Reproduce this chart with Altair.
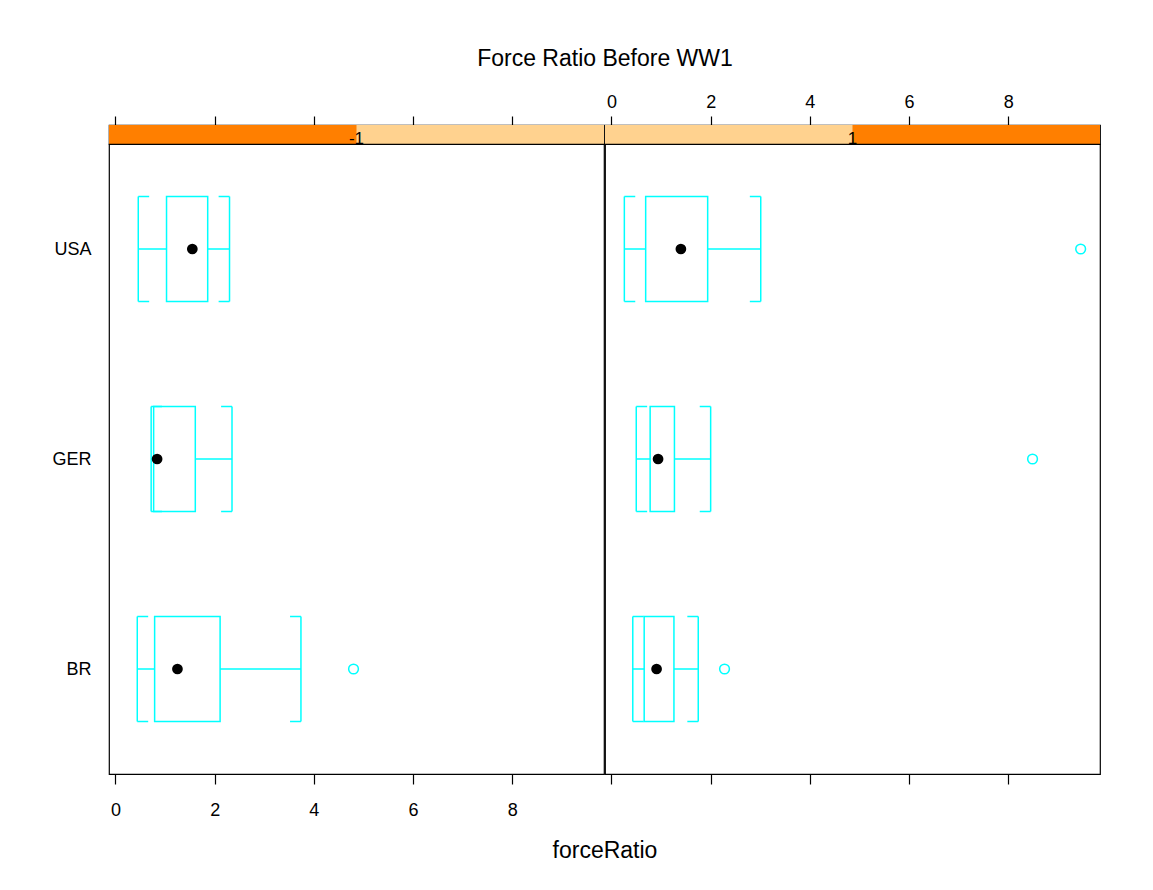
import altair as alt
import pandas as pd

# ---- data ----
categories = ["BR", "GER", "USA"]          # bottom -> top
panels = ["-1", "1"]

lower_whisker = {"-1": [0.44, 0.72, 0.46], "1": [0.43, 0.50, 0.26]}
lower_hinge   = {"-1": [0.79, 0.77, 1.03], "1": [0.66, 0.78, 0.69]}
median        = {"-1": [1.25, 0.84, 1.55], "1": [0.91, 0.94, 1.40]}
upper_hinge   = {"-1": [2.11, 1.61, 1.86], "1": [1.26, 1.27, 1.94]}
upper_whisker = {"-1": [3.74, 2.35, 2.30], "1": [1.75, 2.00, 3.01]}
outlier_panel = ["-1", "1", "1", "1"]
outlier_cat   = ["BR", "BR", "GER", "USA"]
outlier_value = [4.80, 2.28, 8.49, 9.46]

title_text = "Force Ratio Before WW1"
x_title = "forceRatio"
tick_values = [0, 2, 4, 6, 8]

# ---- styling ----
FONT = "Liberation Sans"
CYAN = "#00FFFF"
DARK = "#FF7F00"
LIGHT = "#FFD28F"
W, H, STRIP_H = 495, 630, 19
XDOM = [-0.13, 9.85]
HALF = 0.25      # half box height in category units
STUB = 0.22      # whisker bracket stub length in x units
LW = 1.5

rows = []
for p in panels:
    for i, c in enumerate(categories):
        rows.append(dict(panel=p, cat=c, ypos=i + 1,
                         lo=lower_whisker[p][i], q1=lower_hinge[p][i],
                         med=median[p][i], q3=upper_hinge[p][i],
                         hi=upper_whisker[p][i]))
box_df = pd.DataFrame(rows)
out_df = pd.DataFrame({"panel": outlier_panel, "cat": outlier_cat, "value": outlier_value})
out_df["ypos"] = out_df["cat"].map({c: i + 1 for i, c in enumerate(categories)})

xscale = alt.Scale(domain=XDOM, nice=False, zero=False)
yscale = alt.Scale(domain=[0.5, len(categories) + 0.5], nice=False, zero=False)
label_expr = "[" + ",".join("'%s'" % c for c in categories) + "][datum.value - 1]"


def main_panel(p, first):
    d = box_df[box_df.panel == p]
    o = out_df[out_df.panel == p]
    xaxis = alt.Axis(orient="bottom", values=tick_values, labels=first, title=None,
                     grid=False, domain=False, tickSize=10, labelPadding=17)
    yaxis = (alt.Axis(values=list(range(1, len(categories) + 1)), labelExpr=label_expr,
                      title=None, grid=False, domain=False, ticks=False, labelPadding=18)
             if first else None)

    def X(f):
        return alt.X(f, type="quantitative", scale=xscale, axis=xaxis)

    def Y(f):
        return alt.Y(f, type="quantitative", scale=yscale, axis=yaxis)

    base = alt.Chart(d).transform_calculate(
        ylo="datum.ypos - %f" % HALF, yhi="datum.ypos + %f" % HALF,
        lo_stub="datum.lo + %f" % STUB, hi_stub="datum.hi - %f" % STUB)
    rule = dict(color=CYAN, strokeWidth=LW)

    box = base.mark_rect(stroke=CYAN, strokeWidth=LW, fillOpacity=0).encode(
        x=X("q1"), x2="q3", y=Y("ylo"), y2="yhi")
    wlo = base.mark_rule(**rule).encode(x=X("lo"), x2="q1", y=Y("ypos"))
    whi = base.mark_rule(**rule).encode(x=X("q3"), x2="hi", y=Y("ypos"))
    clo = base.mark_rule(**rule).encode(x=X("lo"), y=Y("ylo"), y2="yhi")
    chi = base.mark_rule(**rule).encode(x=X("hi"), y=Y("ylo"), y2="yhi")
    slo_a = base.mark_rule(**rule).encode(x=X("lo"), x2="lo_stub", y=Y("ylo"))
    slo_b = base.mark_rule(**rule).encode(x=X("lo"), x2="lo_stub", y=Y("yhi"))
    shi_a = base.mark_rule(**rule).encode(x=X("hi_stub"), x2="hi", y=Y("ylo"))
    shi_b = base.mark_rule(**rule).encode(x=X("hi_stub"), x2="hi", y=Y("yhi"))
    med = base.mark_point(shape="circle", filled=True, color="black", size=115, opacity=1).encode(
        x=X("med"), y=Y("ypos"))
    outl = alt.Chart(o).mark_point(shape="circle", filled=False, color=CYAN, size=95,
                                   strokeWidth=1.5, opacity=1).encode(
        x=X("value"), y=Y("ypos"))
    return alt.layer(box, wlo, whi, clo, chi, slo_a, slo_b, shi_a, shi_b, med, outl).properties(
        width=W, height=H)


def strip_panel(idx, show_labels):
    n = len(panels)
    seg = pd.DataFrame({"start": [0.0, idx / n], "end": [1.0, (idx + 1) / n],
                        "kind": ["light", "dark"]})
    lab = pd.DataFrame({"pos": [0.5], "label": [panels[idx]]})
    fscale = alt.Scale(domain=[0, 1], nice=False, zero=False)
    rect = alt.Chart(seg).mark_rect(stroke=None).encode(
        x=alt.X("start:Q", scale=fscale, axis=None), x2="end",
        y=alt.value(0), y2=alt.value(STRIP_H),
        color=alt.Color("kind:N", scale=alt.Scale(domain=["dark", "light"], range=[DARK, LIGHT]),
                        legend=None))
    txt = alt.Chart(lab).mark_text(font=FONT, fontSize=17, color="black", baseline="alphabetic",
                                   align="center", clip=True).encode(
        x=alt.X("pos:Q", scale=fscale, axis=None), y=alt.value(STRIP_H - 0.5), text="label:N")
    d = box_df[box_df.panel == panels[idx]]
    ax = alt.Chart(d).mark_point(opacity=0).encode(
        x=alt.X("med:Q", scale=xscale,
                axis=alt.Axis(orient="top", values=tick_values, labels=show_labels, title=None,
                              grid=False, domain=False, tickSize=9, labelPadding=5)),
        y=alt.value(STRIP_H / 2))
    return alt.layer(rect, txt, ax).resolve_scale(x="independent", color="independent").properties(
        width=W, height=STRIP_H)


col_left = alt.vconcat(strip_panel(0, False), main_panel(panels[0], True), spacing=0,
                       bounds="flush")
col_right = alt.vconcat(strip_panel(1, True), main_panel(panels[1], False), spacing=0,
                        bounds="flush")

inner = alt.hconcat(col_left, col_right, spacing=-4).properties(
    title=alt.TitleParams(title_text, font=FONT, fontSize=23, fontWeight="normal",
                          color="black", anchor="middle", offset=21, dx=29))

chart = alt.vconcat(inner, spacing=0).properties(
    title=alt.TitleParams(x_title, orient="bottom", font=FONT, fontSize=23, fontWeight="normal",
                          color="black", anchor="middle", offset=20, dx=29),
    padding={"left": 43, "top": 40, "right": 5, "bottom": 5},
).configure_view(stroke="black", strokeWidth=1.2).configure_axis(
    labelFont=FONT, labelFontSize=18, labelColor="black", tickColor="black", tickWidth=1.2
)

chart.save("out.html", embed_options={"renderer": "svg", "actions": False})
